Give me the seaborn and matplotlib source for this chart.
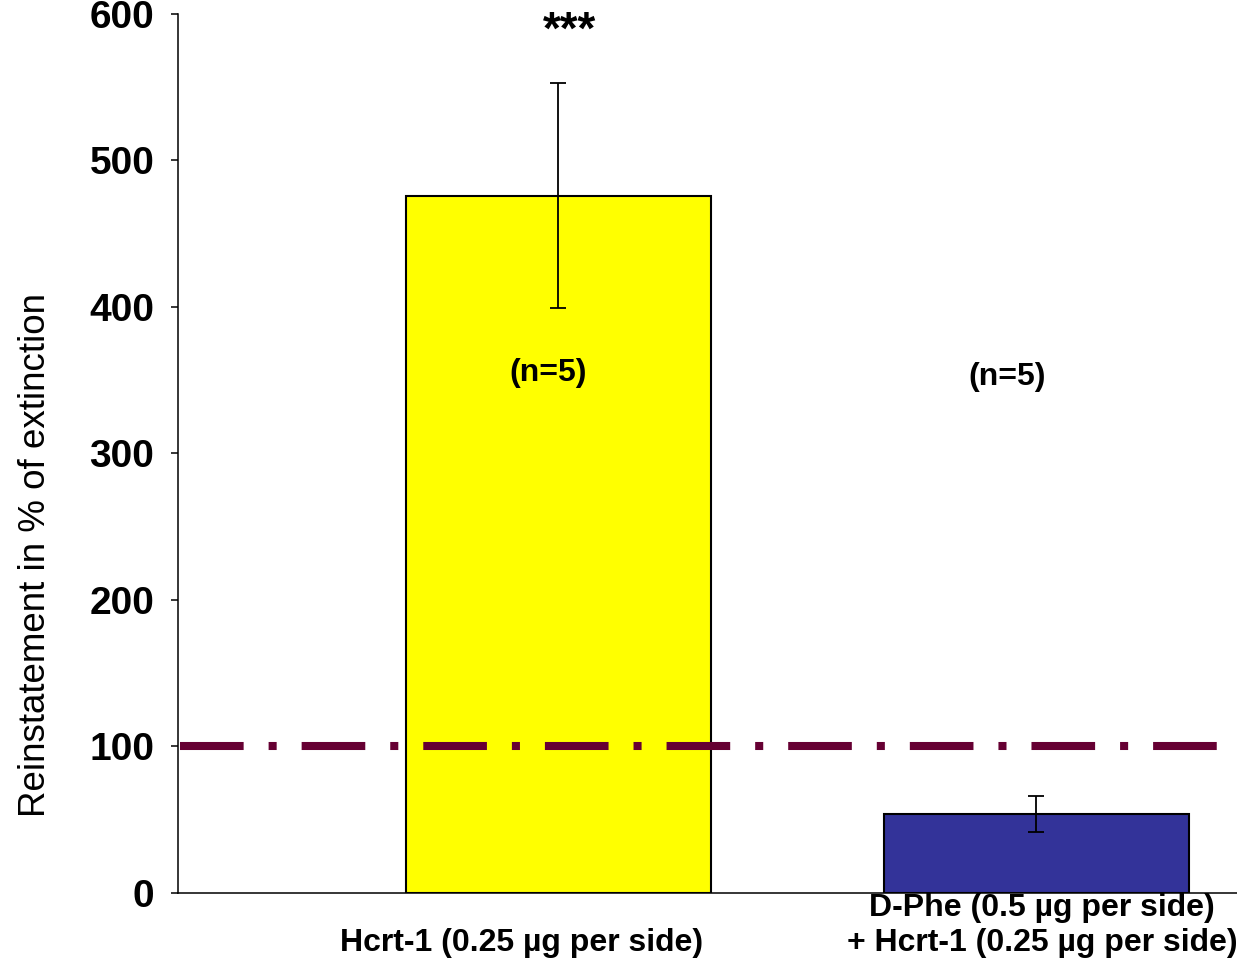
import matplotlib
matplotlib.use("Agg")
import matplotlib.pyplot as plt
import matplotlib.transforms as mtransforms
import seaborn as sns
import pandas as pd

# Data
groups = ["Hcrt-1 (0.25 µg per side)", "D-Phe (0.5 µg per side)\n+ Hcrt-1 (0.25 µg per side)"]
means = [476, 54]
errors = [77, 12.5]
n_labels = ["(n=5)", "(n=5)"]
bar_colors = ["#FFFF00", "#333399"]
baseline = 100
y_ticks = [0, 100, 200, 300, 400, 500, 600]

sns.set_style("ticks")
plt.rcParams['font.family'] = ['Liberation Sans', 'DejaVu Sans']
plt.rcParams['text.color'] = 'black'
plt.rcParams['axes.labelcolor'] = 'black'
plt.rcParams['xtick.color'] = 'black'
plt.rcParams['ytick.color'] = 'black'

df = pd.DataFrame({"group": groups, "mean": means})

fig = plt.figure(figsize=(12.37, 9.61), dpi=100)
ax = fig.add_axes([0.1439, 0.0708, 0.8561, 0.9147])

sns.barplot(data=df, x="group", y="mean", hue="group", palette=bar_colors,
            saturation=1, errorbar=None, width=0.638, edgecolor="black",
            linewidth=1.5, legend=False, ax=ax, zorder=2)

ax.errorbar(range(len(groups)), means, yerr=errors, fmt="none", ecolor="black",
            elinewidth=1.3, capsize=6, capthick=1.3, zorder=3)

# baseline of extinction
ax.axhline(baseline, xmin=0.002, xmax=0.997, color="#660033", linewidth=5.8,
           dashes=(7.9, 3.1, 1.0, 3.1), solid_capstyle="butt",
           dash_capstyle="butt", zorder=4)

ax.set_xlim(-0.795, 1.42)
ax.set_ylim(0, 600)
ax.set_yticks(y_ticks)
ax.set_yticklabels([str(t) for t in y_ticks], fontsize=28, fontweight="bold")
ax.tick_params(axis="y", direction="out", length=5, width=1.1, pad=12)
ax.tick_params(axis="x", length=0, pad=0)

ax.set_xticks(range(len(groups)))
ax.set_xticklabels(["\n" + groups[0], groups[1]], fontsize=23,
                   fontweight="bold", linespacing=1.22)
# first label sits a bit left of its bar in the original
lab0 = ax.get_xticklabels()[0]
lab0.set_transform(lab0.get_transform() + mtransforms.ScaledTranslation(-0.37, 0, fig.dpi_scale_trans))
lab1 = ax.get_xticklabels()[1]
lab1.set_transform(lab1.get_transform() + mtransforms.ScaledTranslation(0.06, 0, fig.dpi_scale_trans))

ax.set_xlabel("")
ax.set_ylabel("Reinstatement in % of extinction", fontsize=26.5)
ax.yaxis.set_label_coords(-0.118, 0.385)

sns.despine(ax=ax)
for side in ["left", "bottom"]:
    ax.spines[side].set_linewidth(1.1)
    ax.spines[side].set_color("black")

ax.text(-0.02, 355, n_labels[0], ha="center", va="center", fontsize=23, fontweight="bold")
ax.text(0.94, 352, n_labels[1], ha="center", va="center", fontsize=23, fontweight="bold")
ax.text(0.023, 588, "***", ha="center", va="center", fontsize=33, fontweight="bold",
        clip_on=False)

fig.savefig("out.png", dpi=100)
